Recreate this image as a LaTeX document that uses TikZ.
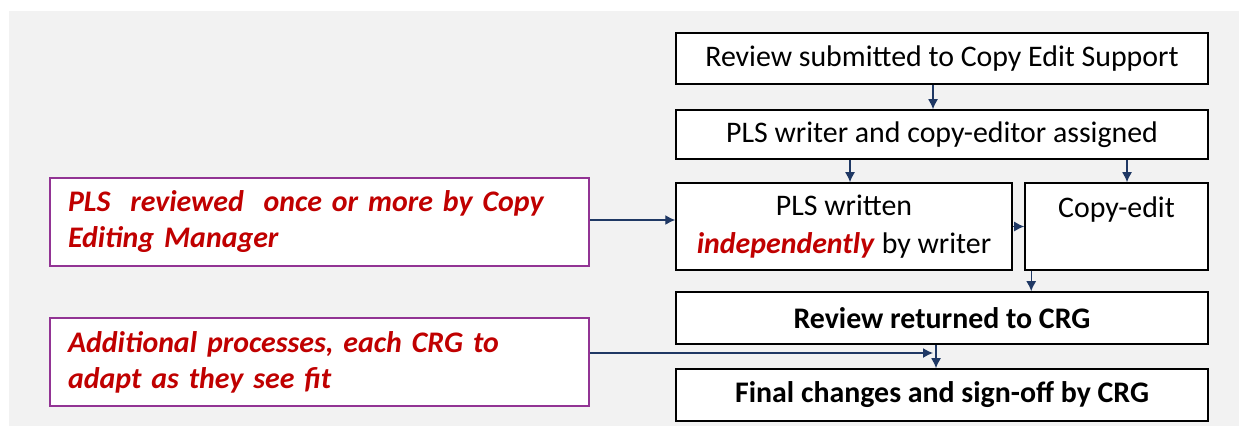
\documentclass[tikz,border=0pt]{standalone}
\usepackage{fontspec}
\setmainfont{Carlito}
\usetikzlibrary{arrows.meta,positioning,calc}
\definecolor{panelgray}{RGB}{242,242,242}
\definecolor{notepurple}{RGB}{146,52,148}
\definecolor{notered}{RGB}{192,0,0}
\definecolor{arrowblue}{RGB}{31,56,100}

\tikzset{
  stepbox/.style={draw,fill=white,line width=0.9pt,minimum width=10.64cm,align=center,font=\fontsize{17}{21.5}\selectfont},
  notebox/.style={draw=notepurple,fill=white,line width=1.6pt,minimum width=10.78cm,minimum height=1.76cm,text width=10.06cm,align=left,text=notered,font=\fontsize{17}{20.5}\selectfont\bfseries\itshape},
  arr/.style={-{Latex[length=2mm,width=2mm]},draw=arrowblue,line width=0.8pt}
}

\begin{document}
\begin{tikzpicture}[x=0.02cm,y=-0.02cm]
  \useasboundingbox (0,0) rectangle (1239,426);
  \fill[panelgray] (9,11) rectangle (1239,426);
  % main column
  \node[stepbox,minimum height=1.02cm] (sub) at (942,58.5) {Review submitted to Copy Edit Support};
  \node[stepbox,minimum height=0.98cm] (asg) at (942,134.5) {PLS writer and copy-editor assigned};
  \node[stepbox,minimum width=6.72cm,minimum height=1.74cm] (wrt) at (844,226.5) {PLS written\\\textcolor{notered}{\textbf{\textit{independently}}} by writer};
  \node[stepbox,minimum width=3.66cm,minimum height=1.74cm] (cpy) at (1116.5,226.5) {Copy-edit\\\mbox{}};
  \node[stepbox,minimum height=1.04cm,font=\fontsize{17}{21.5}\selectfont\bfseries] (ret) at (942,318) {Review returned to CRG};
  \node[stepbox,minimum height=1.04cm,font=\fontsize{17}{21.5}\selectfont\bfseries] (fin) at (942,395) {Final changes and sign-off by CRG};
  % notes on the left
  \node[notebox] (rev) at (319.5,222) {PLS\ \ reviewed\ \ once or more by Copy\\Editing Manager};
  \node[notebox] (adp) at (319.5,362) {Additional processes, each CRG to\\adapt as they see fit};
  \coordinate (join) at (933,353);
  % connectors
  \draw[arr] ([xshift=-0.18cm]sub.south) -- ([xshift=-0.18cm]asg.north);
  \draw[arr] ([xshift=0.12cm]wrt.north |- asg.south) -- ([xshift=0.12cm]wrt.north);
  \draw[arr] ([xshift=0.21cm]cpy.north |- asg.south) -- ([xshift=0.21cm]cpy.north);
  \draw[arr] (wrt.east) -- (cpy.west);
  \draw[arr] ([xshift=0.14cm]cpy.south west) -- ([xshift=0.14cm]cpy.south west |- ret.north);
  \draw[arr] ([yshift=0.04cm]rev.east) -- ([yshift=0.04cm]rev.east -| wrt.west);
  \draw[arr] ([xshift=-0.12cm]ret.south) -- ([xshift=-0.12cm]fin.north);
  \draw[arr] (adp.east |- join) -- (join);
\end{tikzpicture}
\end{document}
